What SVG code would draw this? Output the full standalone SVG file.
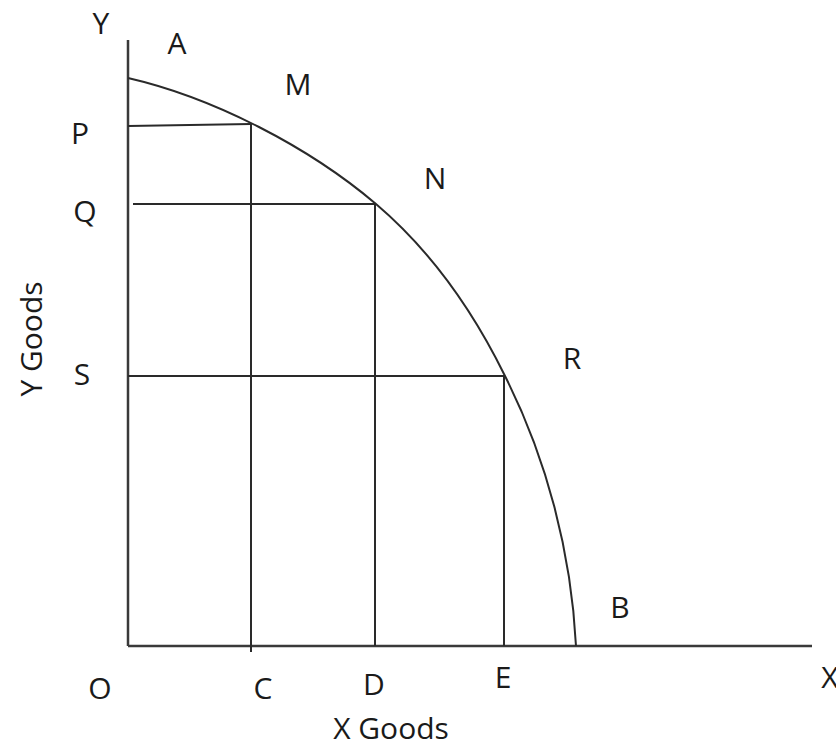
<svg xmlns="http://www.w3.org/2000/svg" width="836" height="744" viewBox="0 0 836 744">
<style>
.ln{stroke:#2a2a2a;stroke-width:2;fill:none}
.ax{stroke:#3a3a3a;stroke-width:2.5;fill:none}
text{font-family:"Open Sans","Liberation Sans",sans-serif;font-size:30px;fill:#1a1a1a;text-anchor:middle}
</style>
<rect width="836" height="744" fill="#fff"/>
<g id="axes">
<line class="ax" x1="128" y1="40" x2="128" y2="646"/>
<line class="ax" x1="128" y1="646" x2="812" y2="646"/>
</g>
<g id="connectors">
<path id="ppc" class="ln" d="M128,78 C213.7,97.7 308.9,147 376,204 C430,250 473.3,311.6 504.5,375 C546.8,458.5 571.3,552.7 576,646"/>
<line class="ln" x1="128" y1="126" x2="251" y2="124"/>
<line class="ln" x1="133" y1="204" x2="376" y2="204"/>
<line class="ln" x1="128" y1="376" x2="505" y2="376"/>
<line class="ln" x1="251" y1="123" x2="251" y2="652"/>
<line class="ln" x1="375" y1="204" x2="375" y2="646"/>
<line class="ln" x1="504" y1="376" x2="504" y2="646"/>
</g>
<g id="labels">
<text x="101" y="34">Y</text>
<text x="177" y="54">A</text>
<text x="298" y="95">M</text>
<text x="80" y="144">P</text>
<text x="85" y="222">Q</text>
<text x="435" y="189">N</text>
<text x="82" y="385">S</text>
<text x="572" y="369">R</text>
<text x="620" y="618">B</text>
<text x="100" y="699">O</text>
<text x="263" y="699">C</text>
<text x="374" y="695">D</text>
<text x="503" y="688">E</text>
<text x="830" y="688">X</text>
<text x="391" y="739">X Goods</text>
<text transform="translate(42,339) rotate(-90)">Y Goods</text>
</g>
</svg>
